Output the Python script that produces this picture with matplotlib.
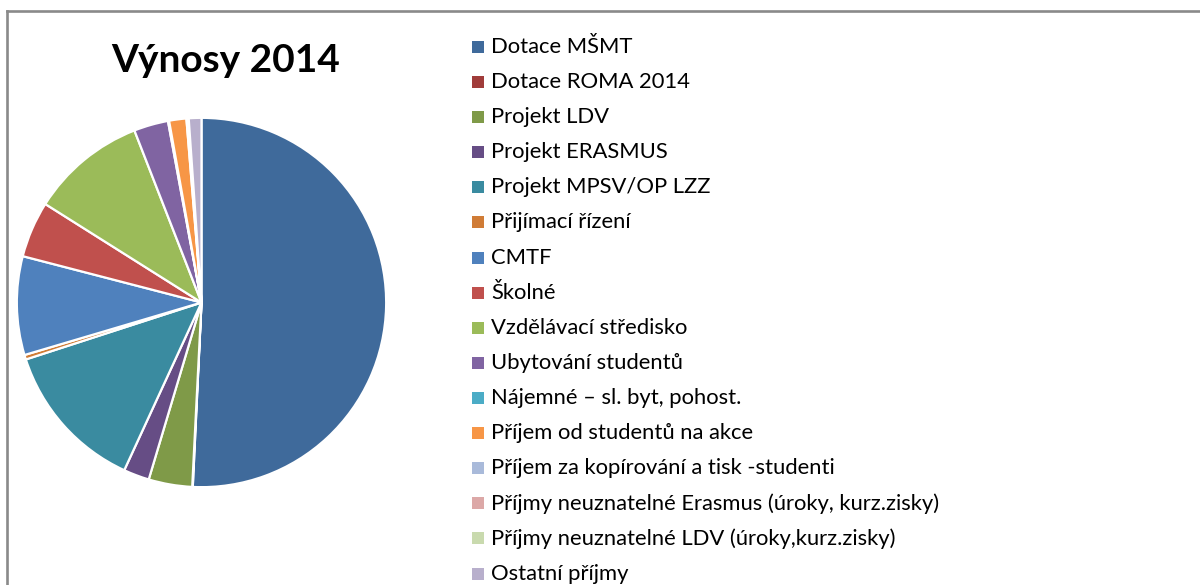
import matplotlib.pyplot as plt
from matplotlib.patches import Rectangle
from matplotlib.lines import Line2D

plt.rcParams['font.family'] = ['Lato', 'DejaVu Sans']

# data (share of total, %)
categories = [
    "Dotace MŠMT",
    "Dotace ROMA 2014",
    "Projekt LDV",
    "Projekt ERASMUS",
    "Projekt MPSV/OP LZZ",
    "Přijímací řízení",
    "CMTF",
    "Školné",
    "Vzdělávací středisko",
    "Ubytování studentů",
    "Nájemné – sl. byt, pohost.",
    "Příjem od studentů na akce",
    "Příjem za kopírování a tisk -studenti",
    "Příjmy neuznatelné Erasmus (úroky, kurz.zisky)",
    "Příjmy neuznatelné LDV (úroky,kurz.zisky)",
    "Ostatní příjmy",
]
values = [50.6, 0.05, 3.8, 2.25, 13.1, 0.4, 8.6, 4.9, 10.1, 3.0, 0.1, 1.5, 0.1, 0.05, 0.05, 1.1]
colors = [
    "#3F6A9B", "#A03C3A", "#7F9A48", "#664D85", "#3A8BA0", "#D07C36",
    "#4F81BD", "#C0504D", "#9BBB59", "#8064A2", "#4BACC6", "#F79646",
    "#A9BADA", "#DCA8A7", "#C9DAAE", "#B8AFCC",
]

W, H = 1200, 585
fig = plt.figure(figsize=(W / 100, H / 100), dpi=100)

# pie: centre (201.5, 302.5) px, radius 186.5 px
cx, cy, r = 201.5, 302.5, 186.5
ax = fig.add_axes([(cx - r) / W, (H - cy - r) / H, 2 * r / W, 2 * r / H])
ax.pie(values, colors=colors, startangle=90, counterclock=False, radius=1,
       wedgeprops=dict(edgecolor="white", linewidth=1.6))
ax.set_xlim(-1.01, 1.01)
ax.set_ylim(-1.01, 1.01)
ax.set_aspect("equal")
ax.axis("off")

# chart frame (only left and top edges visible)
fig.add_artist(Line2D([7 / W, 7 / W], [0, 1 - 11 / H], color="#8a8a8a", lw=1.9,
                      transform=fig.transFigure))
fig.add_artist(Line2D([7 / W, 1], [1 - 11 / H, 1 - 11 / H], color="#8a8a8a", lw=1.9,
                      transform=fig.transFigure))

fig.text(226 / W, 1 - 60 / H, "Výnosy 2014", fontsize=28, fontweight="bold",
         ha="center", va="center", color="black")

# legend
y0, dy = 47, 35.1
for i, (lab, col) in enumerate(zip(categories, colors)):
    y = y0 + i * dy
    fig.add_artist(Rectangle((472 / W, 1 - (y + 6) / H), 12 / W, 12 / H,
                             facecolor=col, edgecolor="none",
                             transform=fig.transFigure))
    fig.text(491 / W, 1 - y / H, lab, fontsize=15.8, ha="left", va="center",
             color="black")

fig.savefig("out.png", dpi=100)
